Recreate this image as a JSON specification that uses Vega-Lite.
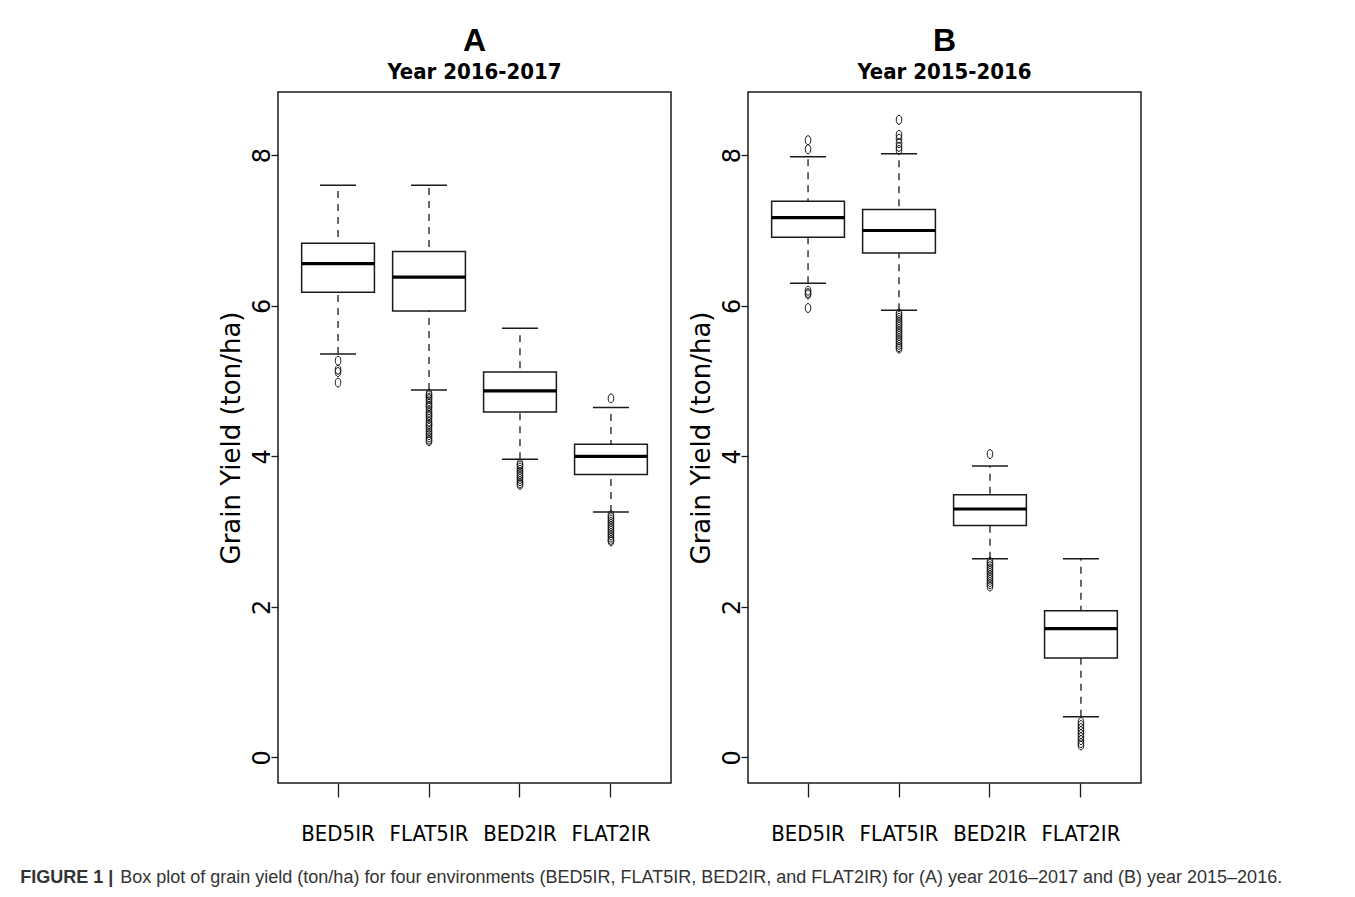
{
  "$schema": "https://vega.github.io/schema/vega-lite/v6.json",
  "background": "white",
  "padding": {"left": 20, "top": 24, "right": 5, "bottom": 5},
  "datasets": {
    "statsA": [
      {"env": "BED5IR", "lo": 5.36, "q1": 6.18, "med": 6.56, "q3": 6.83, "hi": 7.60},
      {"env": "FLAT5IR", "lo": 4.88, "q1": 5.93, "med": 6.38, "q3": 6.72, "hi": 7.60},
      {"env": "BED2IR", "lo": 3.96, "q1": 4.59, "med": 4.87, "q3": 5.12, "hi": 5.70},
      {"env": "FLAT2IR", "lo": 3.26, "q1": 3.76, "med": 4.00, "q3": 4.16, "hi": 4.65}
    ],
    "outA": [
      {"env": "BED5IR", "v": 5.27}, {"env": "BED5IR", "v": 5.15}, {"env": "BED5IR", "v": 5.12}, {"env": "BED5IR", "v": 4.98},
      {"env": "FLAT5IR", "v": 4.83}, {"env": "FLAT5IR", "v": 4.81}, {"env": "FLAT5IR", "v": 4.78}, {"env": "FLAT5IR", "v": 4.76},
      {"env": "FLAT5IR", "v": 4.73}, {"env": "FLAT5IR", "v": 4.70}, {"env": "FLAT5IR", "v": 4.67}, {"env": "FLAT5IR", "v": 4.65},
      {"env": "FLAT5IR", "v": 4.61}, {"env": "FLAT5IR", "v": 4.58}, {"env": "FLAT5IR", "v": 4.55}, {"env": "FLAT5IR", "v": 4.53},
      {"env": "FLAT5IR", "v": 4.50}, {"env": "FLAT5IR", "v": 4.46}, {"env": "FLAT5IR", "v": 4.43}, {"env": "FLAT5IR", "v": 4.41},
      {"env": "FLAT5IR", "v": 4.38}, {"env": "FLAT5IR", "v": 4.34}, {"env": "FLAT5IR", "v": 4.31}, {"env": "FLAT5IR", "v": 4.28},
      {"env": "FLAT5IR", "v": 4.25}, {"env": "FLAT5IR", "v": 4.22}, {"env": "FLAT5IR", "v": 4.20},
      {"env": "BED2IR", "v": 3.90}, {"env": "BED2IR", "v": 3.88}, {"env": "BED2IR", "v": 3.85}, {"env": "BED2IR", "v": 3.82},
      {"env": "BED2IR", "v": 3.79}, {"env": "BED2IR", "v": 3.76}, {"env": "BED2IR", "v": 3.73}, {"env": "BED2IR", "v": 3.70},
      {"env": "BED2IR", "v": 3.67}, {"env": "BED2IR", "v": 3.64}, {"env": "BED2IR", "v": 3.62},
      {"env": "FLAT2IR", "v": 4.77}, {"env": "FLAT2IR", "v": 3.22}, {"env": "FLAT2IR", "v": 3.19}, {"env": "FLAT2IR", "v": 3.16},
      {"env": "FLAT2IR", "v": 3.13}, {"env": "FLAT2IR", "v": 3.10}, {"env": "FLAT2IR", "v": 3.07}, {"env": "FLAT2IR", "v": 3.04},
      {"env": "FLAT2IR", "v": 3.01}, {"env": "FLAT2IR", "v": 2.98}, {"env": "FLAT2IR", "v": 2.95}, {"env": "FLAT2IR", "v": 2.92},
      {"env": "FLAT2IR", "v": 2.89}, {"env": "FLAT2IR", "v": 2.87}
    ],
    "statsB": [
      {"env": "BED5IR", "lo": 6.30, "q1": 6.91, "med": 7.17, "q3": 7.39, "hi": 7.98},
      {"env": "FLAT5IR", "lo": 5.94, "q1": 6.70, "med": 7.00, "q3": 7.28, "hi": 8.02},
      {"env": "BED2IR", "lo": 2.64, "q1": 3.08, "med": 3.30, "q3": 3.49, "hi": 3.87},
      {"env": "FLAT2IR", "lo": 0.54, "q1": 1.32, "med": 1.71, "q3": 1.95, "hi": 2.64}
    ],
    "outB": [
      {"env": "BED5IR", "v": 8.20}, {"env": "BED5IR", "v": 8.08}, {"env": "BED5IR", "v": 6.20}, {"env": "BED5IR", "v": 6.17},
      {"env": "BED5IR", "v": 6.15}, {"env": "BED5IR", "v": 5.97},
      {"env": "FLAT5IR", "v": 8.47}, {"env": "FLAT5IR", "v": 8.27}, {"env": "FLAT5IR", "v": 8.22}, {"env": "FLAT5IR", "v": 8.16},
      {"env": "FLAT5IR", "v": 8.11}, {"env": "FLAT5IR", "v": 8.07},
      {"env": "FLAT5IR", "v": 5.90}, {"env": "FLAT5IR", "v": 5.87}, {"env": "FLAT5IR", "v": 5.84}, {"env": "FLAT5IR", "v": 5.81},
      {"env": "FLAT5IR", "v": 5.78}, {"env": "FLAT5IR", "v": 5.75}, {"env": "FLAT5IR", "v": 5.72}, {"env": "FLAT5IR", "v": 5.69},
      {"env": "FLAT5IR", "v": 5.66}, {"env": "FLAT5IR", "v": 5.63}, {"env": "FLAT5IR", "v": 5.60}, {"env": "FLAT5IR", "v": 5.57},
      {"env": "FLAT5IR", "v": 5.54}, {"env": "FLAT5IR", "v": 5.51}, {"env": "FLAT5IR", "v": 5.48}, {"env": "FLAT5IR", "v": 5.45},
      {"env": "FLAT5IR", "v": 5.43},
      {"env": "BED2IR", "v": 4.03}, {"env": "BED2IR", "v": 2.60}, {"env": "BED2IR", "v": 2.57}, {"env": "BED2IR", "v": 2.54},
      {"env": "BED2IR", "v": 2.51}, {"env": "BED2IR", "v": 2.48}, {"env": "BED2IR", "v": 2.45}, {"env": "BED2IR", "v": 2.42},
      {"env": "BED2IR", "v": 2.39}, {"env": "BED2IR", "v": 2.36}, {"env": "BED2IR", "v": 2.33}, {"env": "BED2IR", "v": 2.30},
      {"env": "BED2IR", "v": 2.27},
      {"env": "FLAT2IR", "v": 0.47}, {"env": "FLAT2IR", "v": 0.43}, {"env": "FLAT2IR", "v": 0.39}, {"env": "FLAT2IR", "v": 0.35},
      {"env": "FLAT2IR", "v": 0.31}, {"env": "FLAT2IR", "v": 0.27}, {"env": "FLAT2IR", "v": 0.23}, {"env": "FLAT2IR", "v": 0.19},
      {"env": "FLAT2IR", "v": 0.16}
    ]
  },
  "title": {
    "text": "FIGURE 1 |",
    "orient": "bottom",
    "anchor": "start",
    "frame": "bounds",
    "font": "Liberation Sans",
    "fontSize": 18,
    "fontWeight": "bold",
    "color": "#333333",
    "offset": -18,
    "dx": -100
  },
  "vconcat": [
    {
      "title": {
        "text": "Box plot of grain yield (ton/ha) for four environments (BED5IR, FLAT5IR, BED2IR, and FLAT2IR) for (A) year 2016–2017 and (B) year 2015–2016.",
        "orient": "bottom",
        "anchor": "start",
        "frame": "bounds",
        "font": "Liberation Sans",
        "fontSize": 18,
        "fontWeight": "normal",
        "color": "#333333",
        "offset": 24,
        "dx": -97
      },
      "spacing": 15,
      "hconcat": [
        {
          "width": 393,
          "height": 691,
          "title": {"text": "A", "subtitle": "Year 2016-2017"},
          "encoding": {
            "x": {"field": "env", "type": "nominal", "sort": ["BED5IR", "FLAT5IR", "BED2IR", "FLAT2IR"],
                  "scale": {"paddingInner": 0.2, "paddingOuter": 0.26}, "title": null}
          },
          "layer": [
            {"data": {"name": "statsA"}, "mark": {"type": "rule", "stroke": "#1a1a1a", "strokeWidth": 1.3, "strokeDash": [7, 6]},
             "encoding": {"y": {"field": "lo", "type": "quantitative", "title": "Grain Yield (ton/ha)",
                                "scale": {"domain": [-0.34, 8.84], "nice": false, "zero": false},
                                "axis": {"values": [0, 2, 4, 6, 8], "format": "d"}},
                          "y2": {"field": "hi"}}},
            {"data": {"name": "statsA"}, "mark": {"type": "bar", "fill": "white", "stroke": "#1a1a1a", "strokeWidth": 1.5},
             "encoding": {"y": {"field": "q1", "type": "quantitative", "title": "Grain Yield (ton/ha)"}, "y2": {"field": "q3"}}},
            {"data": {"name": "statsA"}, "mark": {"type": "tick", "color": "#1a1a1a", "size": 36, "thickness": 1.5, "opacity": 1},
             "encoding": {"y": {"field": "lo", "type": "quantitative", "title": "Grain Yield (ton/ha)"}}},
            {"data": {"name": "statsA"}, "mark": {"type": "tick", "color": "#1a1a1a", "size": 36, "thickness": 1.5, "opacity": 1},
             "encoding": {"y": {"field": "hi", "type": "quantitative", "title": "Grain Yield (ton/ha)"}}},
            {"data": {"name": "statsA"}, "mark": {"type": "tick", "color": "#000000", "size": 73, "thickness": 3.2, "opacity": 1},
             "encoding": {"y": {"field": "med", "type": "quantitative", "title": "Grain Yield (ton/ha)"}}},
            {"data": {"name": "outA"}, "mark": {"type": "point", "filled": false, "stroke": "#1a1a1a", "strokeWidth": 1, "size": 81, "opacity": 1,
               "shape": "M0,-1C0.34,-1,0.62,-0.552,0.62,0C0.62,0.552,0.34,1,0,1C-0.34,1,-0.62,0.552,-0.62,0C-0.62,-0.552,-0.34,-1,0,-1Z"},
             "encoding": {"y": {"field": "v", "type": "quantitative", "title": "Grain Yield (ton/ha)"}}}
          ]
        },
        {
          "width": 393,
          "height": 691,
          "title": {"text": "B", "subtitle": "Year 2015-2016"},
          "encoding": {
            "x": {"field": "env", "type": "nominal", "sort": ["BED5IR", "FLAT5IR", "BED2IR", "FLAT2IR"],
                  "scale": {"paddingInner": 0.2, "paddingOuter": 0.26}, "title": null}
          },
          "layer": [
            {"data": {"name": "statsB"}, "mark": {"type": "rule", "stroke": "#1a1a1a", "strokeWidth": 1.3, "strokeDash": [7, 6]},
             "encoding": {"y": {"field": "lo", "type": "quantitative", "title": "Grain Yield (ton/ha)",
                                "scale": {"domain": [-0.34, 8.84], "nice": false, "zero": false},
                                "axis": {"values": [0, 2, 4, 6, 8], "format": "d"}},
                          "y2": {"field": "hi"}}},
            {"data": {"name": "statsB"}, "mark": {"type": "bar", "fill": "white", "stroke": "#1a1a1a", "strokeWidth": 1.5},
             "encoding": {"y": {"field": "q1", "type": "quantitative", "title": "Grain Yield (ton/ha)"}, "y2": {"field": "q3"}}},
            {"data": {"name": "statsB"}, "mark": {"type": "tick", "color": "#1a1a1a", "size": 36, "thickness": 1.5, "opacity": 1},
             "encoding": {"y": {"field": "lo", "type": "quantitative", "title": "Grain Yield (ton/ha)"}}},
            {"data": {"name": "statsB"}, "mark": {"type": "tick", "color": "#1a1a1a", "size": 36, "thickness": 1.5, "opacity": 1},
             "encoding": {"y": {"field": "hi", "type": "quantitative", "title": "Grain Yield (ton/ha)"}}},
            {"data": {"name": "statsB"}, "mark": {"type": "tick", "color": "#000000", "size": 73, "thickness": 3.2, "opacity": 1},
             "encoding": {"y": {"field": "med", "type": "quantitative", "title": "Grain Yield (ton/ha)"}}},
            {"data": {"name": "outB"}, "mark": {"type": "point", "filled": false, "stroke": "#1a1a1a", "strokeWidth": 1, "size": 81, "opacity": 1,
               "shape": "M0,-1C0.34,-1,0.62,-0.552,0.62,0C0.62,0.552,0.34,1,0,1C-0.34,1,-0.62,0.552,-0.62,0C-0.62,-0.552,-0.34,-1,0,-1Z"},
             "encoding": {"y": {"field": "v", "type": "quantitative", "title": "Grain Yield (ton/ha)"}}}
          ]
        }
      ]
    }
  ],
  "config": {
    "view": {"stroke": "#1a1a1a", "strokeWidth": 1.5},
    "title": {
      "font": "Liberation Sans", "fontSize": 32, "fontWeight": "bold", "color": "#000000",
      "subtitleFont": "Liberation Sans Narrow, DejaVu Sans Condensed, sans-serif", "subtitleFontSize": 22,
      "subtitleFontWeight": "bold", "subtitleColor": "#000000", "subtitlePadding": 4,
      "anchor": "middle", "frame": "group", "offset": 8
    },
    "axisX": {
      "domain": false, "grid": false, "tickSize": 14, "tickColor": "#1a1a1a", "tickWidth": 1.3,
      "labelAngle": 0, "labelFont": "Liberation Sans Narrow, DejaVu Sans Condensed, sans-serif",
      "labelFontSize": 22, "labelColor": "#000000", "labelPadding": 26
    },
    "axisY": {
      "domain": false, "grid": false, "tickSize": 7, "tickColor": "#1a1a1a", "tickWidth": 1.3,
      "labelAngle": -90, "labelAlign": "center", "labelBaseline": "alphabetic",
      "labelFont": "DejaVu Sans", "labelFontSize": 24, "labelColor": "#000000", "labelPadding": 2,
      "titleFont": "DejaVu Sans", "titleFontSize": 26, "titleFontWeight": "normal", "titleColor": "#000000", "titlePadding": 6
    }
  }
}
